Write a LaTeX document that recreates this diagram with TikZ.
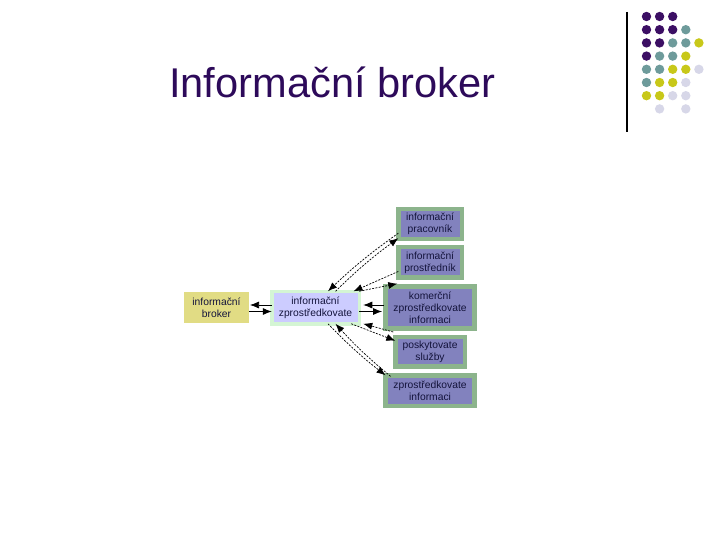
\documentclass[tikz,border=0pt]{standalone}
\usepackage{fontspec}
\setmainfont{Liberation Sans}
\usetikzlibrary{arrows.meta,positioning,calc}
\definecolor{titre}{RGB}{45,10,90}
\definecolor{boxout}{RGB}{140,180,140}
\definecolor{boxin}{RGB}{130,130,190}
\definecolor{boxtext}{RGB}{20,20,60}
\definecolor{midout}{RGB}{212,245,212}
\definecolor{midin}{RGB}{204,204,255}
\definecolor{jaune}{RGB}{225,220,132}
\definecolor{dP}{RGB}{60,15,100}
\definecolor{dT}{RGB}{110,155,155}
\definecolor{dY}{RGB}{200,200,25}
\definecolor{dL}{RGB}{215,215,232}
\tikzset{
  rbox/.style={rectangle, draw=boxout, line width=4.5pt, fill=boxin, inner sep=0pt, outer sep=0pt,
               align=center, font=\fontsize{10.3}{12}\selectfont, text=boxtext},
  midbox/.style={rectangle, draw=midout, line width=3.5pt, fill=midin, inner sep=0pt, outer sep=0pt,
                 align=center, font=\fontsize{10.3}{12}\selectfont, text=boxtext},
  yelbox/.style={rectangle, fill=jaune, inner sep=0pt, outer sep=0pt,
                 align=center, font=\fontsize{10.3}{12}\selectfont, text=boxtext},
  arr/.style={-{Latex[length=9pt,width=7pt]}, line width=0.7pt},
  darr/.style={arr, dash pattern=on 2pt off 1.3pt},
}
\begin{document}
\begin{tikzpicture}[x=1pt,y=-1pt]
        \useasboundingbox (0,0) rectangle (720,540);
        % title and decoration
        \node[anchor=base west, inner sep=0pt, text=titre, font=\fontsize{41.6}{45}\selectfont] (title) at (169,98) {Informační broker};
        \draw[line width=1.2pt] (627,12) -- (627,132);
        \foreach \row [count=\j from 0] in {{dP,dP,dP},{dP,dP,dP,dT},{dP,dP,dT,dT,dY},{dP,dT,dT,dY},
                                            {dT,dT,dY,dY,dL},{dT,dY,dY,dL},{dY,dY,dL,dL},{white,dL,white,dL}}
          \foreach \col [count=\i from 0] in \row
            \fill[\col] (646.5+13.1*\i, 16.5+13.2*\j) circle (4.7);
        % diagram
        \node[midbox, minimum width=87.5pt, minimum height=32.5pt] (m) at (315.5,307.5) {informační\\zprostředkovate};
        \node[yelbox, minimum width=65pt, minimum height=31pt, left=22.75pt of m] (br) {informační\\broker};
        \node[rbox, minimum width=89pt, minimum height=42pt, right=26.3pt of m] (b3) {komerční\\zprostředkovate\\informaci};
        \node[rbox, minimum width=63.5pt, minimum height=30.5pt, above=8.8pt of b3] (b2) {informační\\prostředník};
        \node[rbox, minimum width=63.5pt, minimum height=30pt, above=8pt of b2] (b1) {informační\\pracovník};
        \node[rbox, minimum width=69.5pt, minimum height=29.5pt, below=8.5pt of b3] (b4) {poskytovate\\služby};
        \node[rbox, minimum width=89pt, minimum height=30.5pt, below=8.8pt of b4] (b5) {zprostředkovate\\informaci};
        \draw[arr, shorten >=1pt] ($(m.west)+(0,-2.5)$) -- ($(br.east)+(0,-2.5)$);
        \draw[arr] ($(br.east)+(0,4)$) -- ($(m.west)+(0,4)$);
        \draw[arr, shorten >=4pt, shorten <=2pt] ($(b3.west)+(0,-2.5)$) -- ($(m.east)+(0,-2.5)$);
        \draw[arr, shorten >=3.5pt] ($(m.east)+(0,4)$) -- ($(b3.west)+(0,4)$);
        \draw[darr] ($(b1.west)+(0,9)$) to[bend right=4] ($(m.north)+(12.5,0)$);
        \draw[darr] ($(m.north)+(20,0)$) to[bend left=4] ($(b1.west)+(0,14)$);
        \draw[darr] ($(b2.west)+(0,9)$) -- ($(m.north)+(38,0)$);
        \draw[darr] (m.north east) -- ($(b2.south west)+(-1,6)$);
        \draw[darr] ($(b4.north west)+(-2,-5)$) -- ($(m.south east)+(4,0)$);
        \draw[darr] ($(m.south east)+(-8,0)$) -- ($(b4.west)+(0,-11)$);
        \draw[darr] ($(b5.north west)+(5,1)$) to[bend left=4] ($(m.south)+(20,0)$);
        \draw[darr] ($(m.south)+(12.5,0)$) to[bend right=4] (b5.north west);
      \end{tikzpicture}
\end{document}
